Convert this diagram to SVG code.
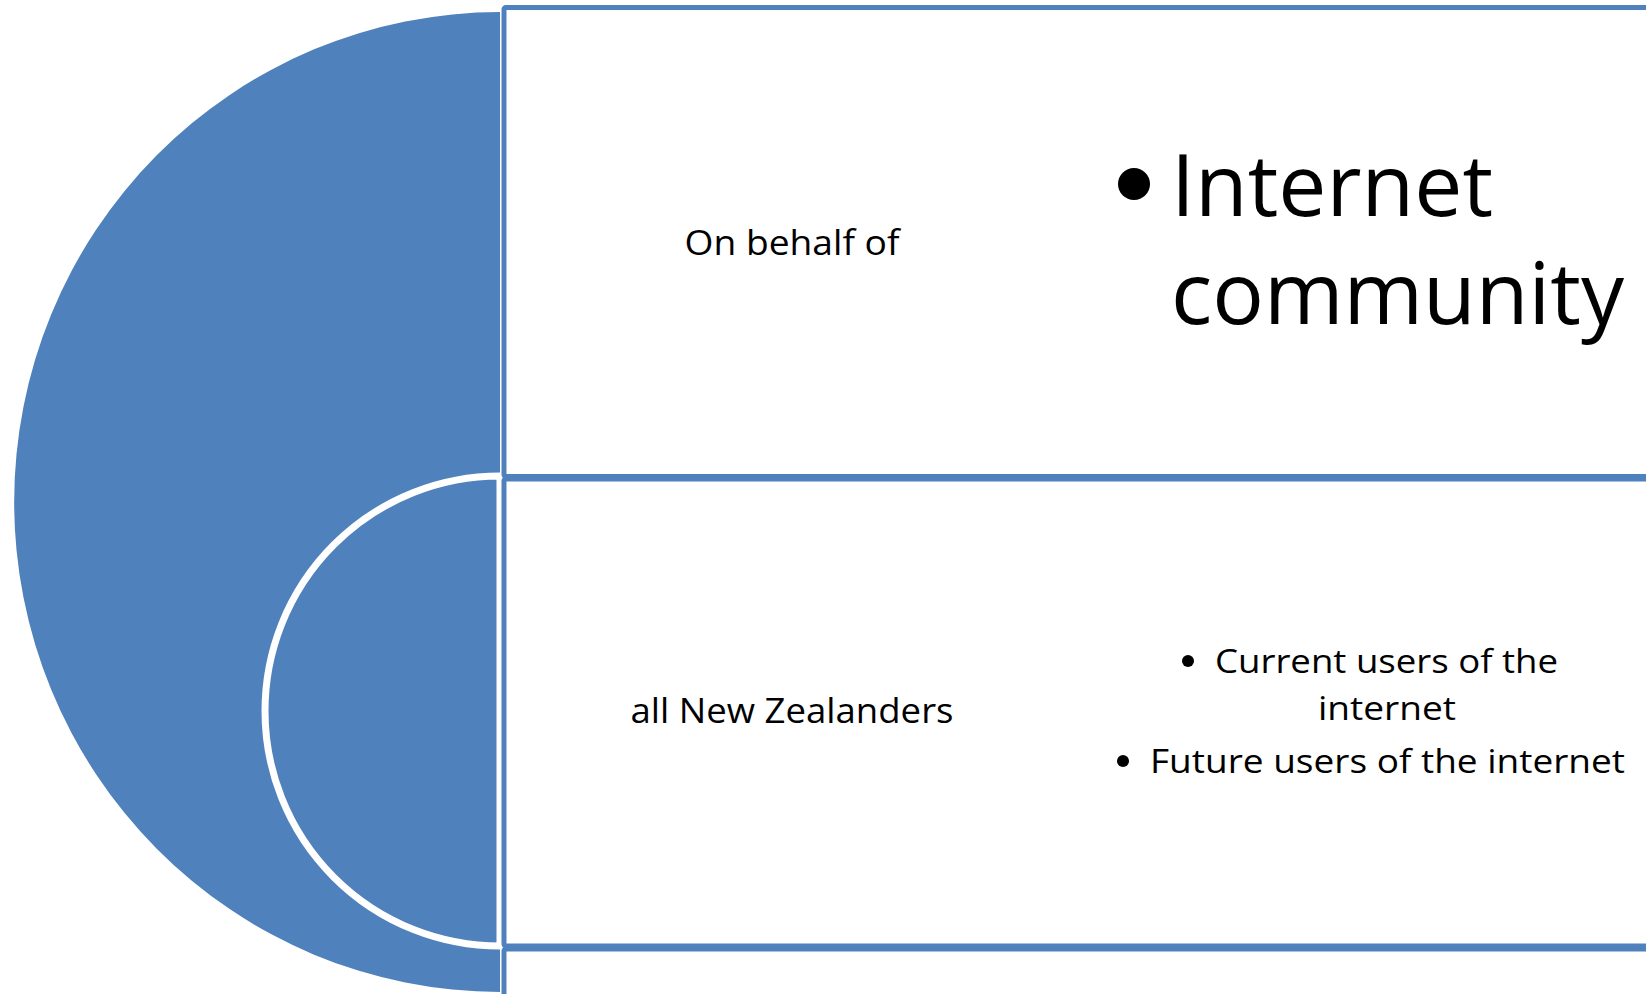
<svg xmlns="http://www.w3.org/2000/svg" width="1646" height="994" viewBox="0 0 1646 994">
<style>
.blue{fill:#4F81BD}
.box{fill:#FFFFFF;stroke:#4F81BD;stroke-width:5}
.t{font-family:"Open Sans","Liberation Sans",sans-serif;fill:#000000}
</style>
<rect x="0" y="0" width="1646" height="994" fill="#FFFFFF"/>
<g id="big-arc">
<path class="blue" d="M500,12 A486,490 0 0 0 500,992 Z"/>
</g>
<g id="small-arc">
<path class="blue" d="M500,476 A235,235 0 0 0 500,946 Z" stroke="#FFFFFF" stroke-width="7"/>
</g>
<g id="box1">
<rect class="box" x="504" y="7.5" width="1200" height="469" rx="2"/>
<text class="t" x="792" y="255" font-size="35" text-anchor="middle" textLength="215" lengthAdjust="spacingAndGlyphs">On behalf of</text>
<circle cx="1134" cy="184" r="16" fill="#000000"/>
<text class="t" x="1171" y="216" font-size="86" textLength="322" lengthAdjust="spacingAndGlyphs">Internet</text>
<text class="t" x="1171" y="324" font-size="86" textLength="453" lengthAdjust="spacingAndGlyphs">community</text>
</g>
<g id="box2">
<rect class="box" x="504" y="479" width="1200" height="467" rx="2"/>
<text class="t" x="792" y="723" font-size="35" text-anchor="middle" textLength="323" lengthAdjust="spacingAndGlyphs">all New Zealanders</text>
<circle cx="1188" cy="661" r="6" fill="#000000"/>
<text class="t" x="1215" y="673" font-size="33" textLength="343" lengthAdjust="spacingAndGlyphs">Current users of the</text>
<text class="t" x="1318" y="720" font-size="33" textLength="138" lengthAdjust="spacingAndGlyphs">internet</text>
<circle cx="1123" cy="761" r="6" fill="#000000"/>
<text class="t" x="1150" y="773" font-size="33" textLength="475" lengthAdjust="spacingAndGlyphs">Future users of the internet</text>
</g>
<g id="box3">
<rect class="box" x="504" y="949" width="1200" height="467" rx="2"/>
</g>
<g id="connectors"></g>
</svg>
